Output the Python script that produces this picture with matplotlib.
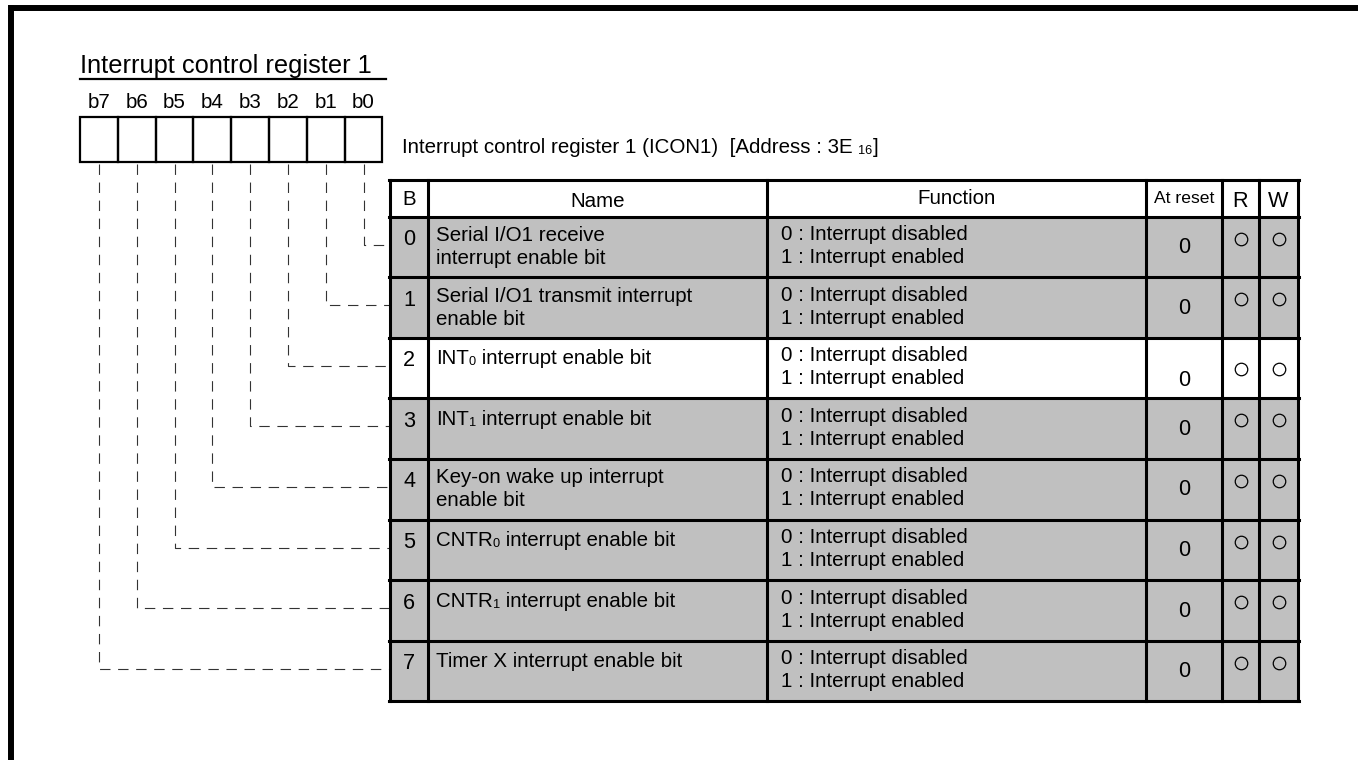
# interrupt control register 1 (ICON1) bit map
import matplotlib.pyplot as plt
from matplotlib.patches import Rectangle

plt.rcParams['font.family'] = ['Liberation Sans', 'DejaVu Sans']
plt.rcParams['lines.scale_dashes'] = False

title = "Interrupt control register 1"
reg_desc = "Interrupt control register 1 (ICON1)  [Address : 3E "
reg_addr_sub = "16"
bit_labels = ["b7", "b6", "b5", "b4", "b3", "b2", "b1", "b0"]
headers = ["B", "Name", "Function", "At reset", "R", "W"]
bits = [0, 1, 2, 3, 4, 5, 6, 7]
# "|" marks a subscript part: main|sub|rest
names = ["Serial I/O1 receive\ninterrupt enable bit",
         "Serial I/O1 transmit interrupt\nenable bit",
         "INT|0| interrupt enable bit",
         "INT|1| interrupt enable bit",
         "Key-on wake up interrupt\nenable bit",
         "CNTR|0| interrupt enable bit",
         "CNTR|1| interrupt enable bit",
         "Timer X interrupt enable bit"]
func_0 = ["0 : Interrupt disabled"] * 8
func_1 = ["1 : Interrupt enabled"] * 8
at_reset = ["0"] * 8
readable = [True] * 8
writable = [True] * 8
shaded = [True, True, False, True, True, True, True, True]

fig = plt.figure(figsize=(13.58, 7.6), dpi=100)
ax = fig.add_axes([0, 0, 1, 1])
ax.set_xlim(0, 1358)
ax.set_ylim(760, 0)
ax.axis('off')

fs = 14.8
gray = '#c0c0c0'

# outer frame (top and left only visible)
ax.plot([10.5, 1358], [8, 8], color='black', lw=4.3, solid_capstyle='butt')
ax.plot([10.5, 10.5], [5, 760], color='black', lw=4.3, solid_capstyle='butt')

# title with underline
ax.text(80, 73, title, fontsize=18.3, va='baseline', ha='left')
ax.plot([80, 386], [78.5, 78.5], color='black', lw=1.6)

# register boxes
bx0, bw, by0, by1 = 80, 37.8, 117, 162
for k, lab in enumerate(bit_labels):
    ax.add_patch(Rectangle((bx0 + k * bw, by0), bw, by1 - by0, fill=False,
                           ec='black', lw=1.6))
    ax.text(bx0 + (k + 0.5) * bw, 108, lab, fontsize=fs, ha='center',
            va='baseline')

# description line with subscript
t = ax.text(402, 153, reg_desc, fontsize=fs, va='baseline', ha='left')
s = ax.annotate(reg_addr_sub, xy=(1, 0), xycoords=t, fontsize=fs * 0.62,
                va='bottom', ha='left')
ax.annotate("]", xy=(1, 0), xycoords=s, fontsize=fs, va='bottom', ha='left')

# table geometry
cols = [390, 428, 767, 1146, 1222, 1259, 1298]
head_top, head_bot = 180, 216.5
row_h = 60.6
row_tops = [head_bot + i * row_h for i in range(len(bits))]
tab_bot = row_tops[-1] + row_h

# dashed connectors from each bit box to its row
for i, b in enumerate(bits):
    x = bx0 + (7 - b + 0.5) * bw
    y = row_tops[i] + 28
    ax.plot([x, x, cols[0]], [by1 + 2, y, y], color='#333333', lw=0.8,
            linestyle=(0, (7.5, 5.5)))

# row backgrounds
ax.add_patch(Rectangle((cols[0], head_top), cols[-1] - cols[0],
                       head_bot - head_top, fc='white', ec='none'))
for i in range(len(bits)):
    ax.add_patch(Rectangle((cols[0], row_tops[i]), cols[-1] - cols[0], row_h,
                           fc=gray if shaded[i] else 'white', ec='none'))

# grid lines
lw_t = 2.2
for x in cols:
    ax.plot([x, x], [head_top, tab_bot], color='black', lw=lw_t)
for y in [head_top, head_bot] + row_tops[1:] + [tab_bot]:
    ax.plot([cols[0] - 1, cols[-1] + 1], [y, y], color='black', lw=lw_t)

# header
hy = (head_top + head_bot) / 2
centers = [(cols[k] + cols[k + 1]) / 2 for k in range(len(cols) - 1)]
head_sizes = [fs, fs, fs, fs * 0.85, fs * 1.05, fs * 1.05]
head_dy = [1, 3, 0, 0, 3, 3]
for k, h in enumerate(headers):
    ax.text(centers[k], hy + head_dy[k], h, fontsize=head_sizes[k],
            ha='center', va='center')


def subscript_text(x, y, label):
    parts = label.split('|')
    t0 = ax.text(x, y, parts[0], fontsize=fs, ha='left', va='center')
    if len(parts) == 3:
        t1 = ax.annotate(parts[1], xy=(1, 0), xycoords=t0,
                         fontsize=fs * 0.62, va='bottom', ha='left')
        ax.annotate(parts[2], xy=(1, 0), xycoords=t1, fontsize=fs,
                    va='bottom', ha='left')


# rows
for i, b in enumerate(bits):
    top = row_tops[i]
    ax.text(centers[0], top + 23, str(b), fontsize=fs * 1.05, ha='center',
            va='center')
    lines = names[i].split('\n')
    if len(lines) == 2:
        ax.text(436, top + 19, lines[0], fontsize=fs, ha='left', va='center')
        ax.text(436, top + 42, lines[1], fontsize=fs, ha='left', va='center')
    else:
        subscript_text(436, top + 21, lines[0])
    ax.text(781, top + 18, func_0[i], fontsize=fs, ha='left', va='center')
    ax.text(781, top + 41, func_1[i], fontsize=fs, ha='left', va='center')
    ry = top + (43 if not shaded[i] else 31)
    ax.text(centers[3], ry, at_reset[i], fontsize=fs * 1.05, ha='center',
            va='center')
    cy = top + (31 if not shaded[i] else 22)
    if readable[i]:
        ax.plot(centers[4], cy, marker='o', ms=9, mfc='none', mec='black',
                mew=0.9)
    if writable[i]:
        ax.plot(centers[5], cy, marker='o', ms=9, mfc='none', mec='black',
                mew=0.9)

fig.savefig("out.png", dpi=100)
